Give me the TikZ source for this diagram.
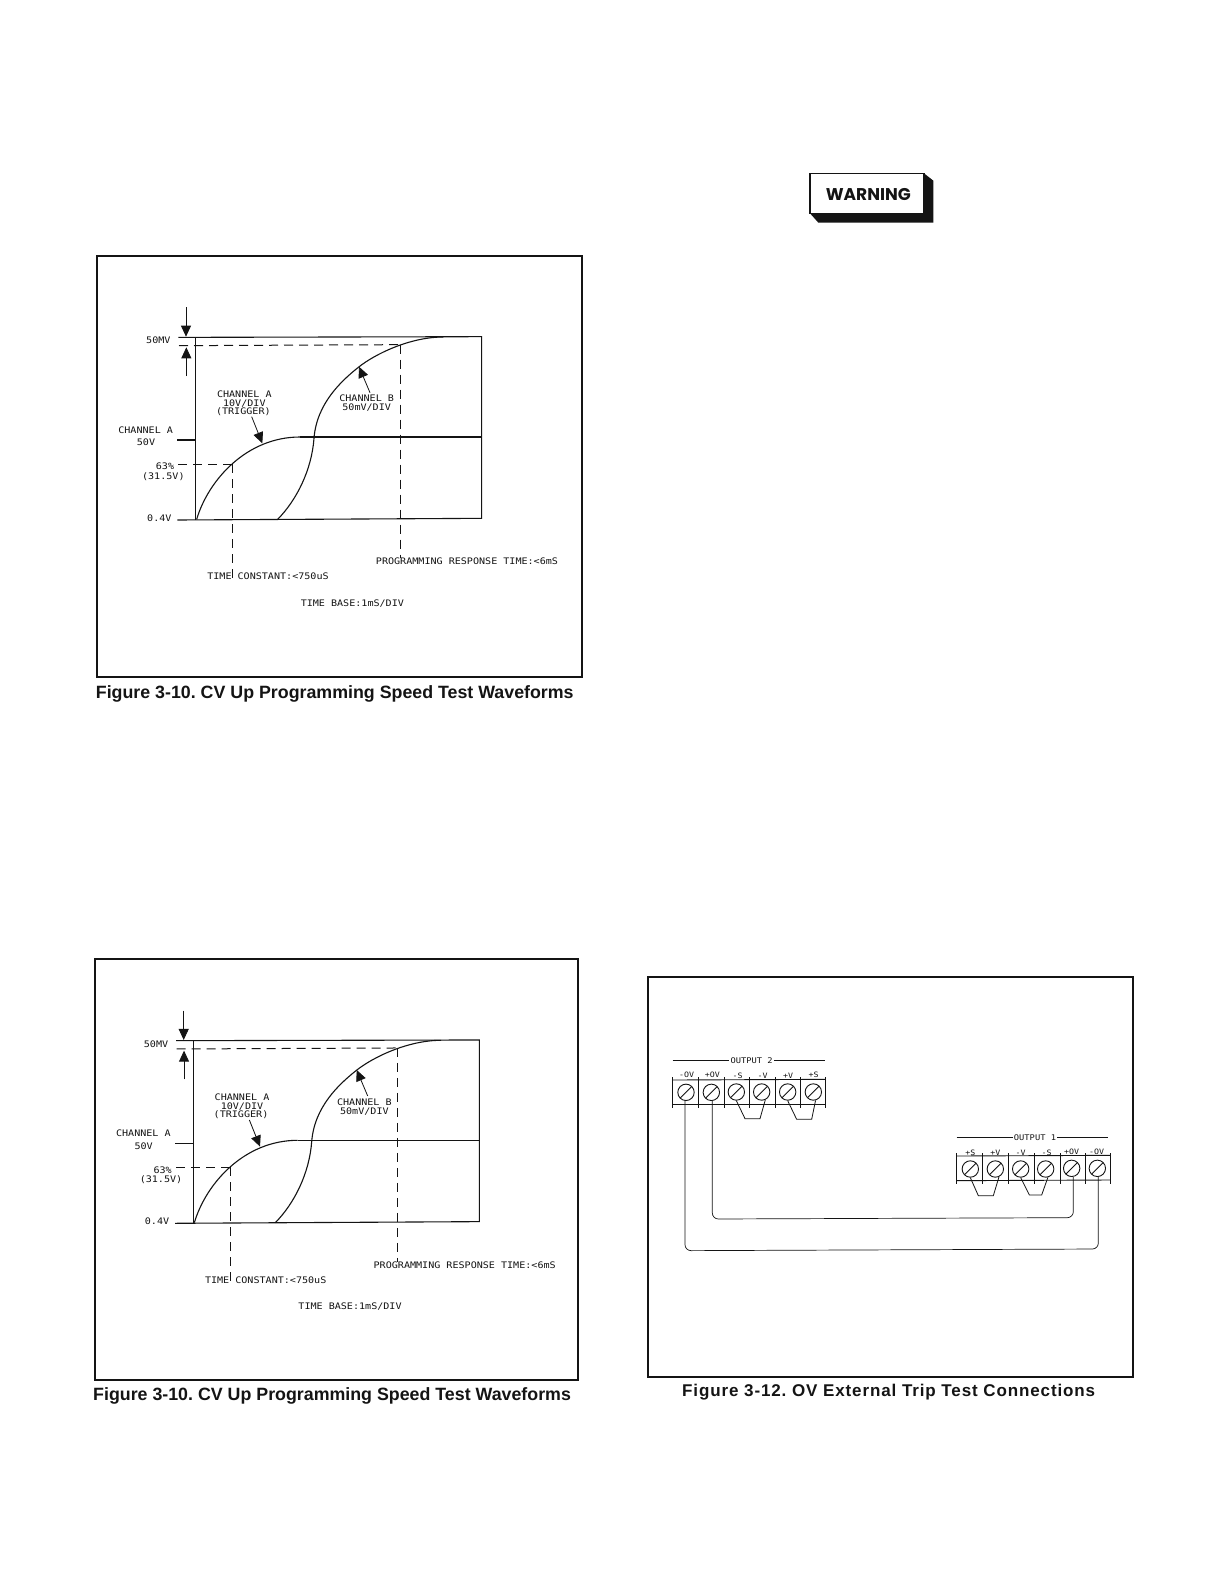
\documentclass[tikz,border=0pt]{standalone}
\usepackage{fontspec}
\usetikzlibrary{arrows.meta}
\setmainfont{Liberation Sans}
\newfontfamily\plotfont[FakeStretch=1.12]{DejaVu Sans Mono}
\newfontfamily\widecap[LetterSpace=5.2]{Liberation Sans}
\newfontfamily\warnfont{Poppins}
\definecolor{ink}{gray}{0.08}
\frenchspacing
\tikzset{
  boxframe/.style={draw=ink,line width=1.7pt},
  plotline/.style={draw=ink,line width=1.1pt},
  dashline/.style={draw=ink,line width=1pt,dash pattern=on 9pt off 6pt},
  ptr/.style={draw=ink,line width=.8pt,-{Triangle[length=11pt,width=10pt]}},
  lab/.style={inner sep=0pt,text=ink,font=\plotfont\fontsize{9}{11}\selectfont},
  termlab/.style={inner sep=0pt,text=ink,font=\plotfont\fontsize{7.4}{9}\selectfont},
  outlab/.style={inner sep=0pt,text=ink,font=\plotfont\fontsize{7.8}{10}\selectfont},
  captext/.style={inner sep=0pt,anchor=base west,text=ink,font=\bfseries\fontsize{17.8}{20}\selectfont},
  screw/.style={circle,draw=ink,line width=.9pt,minimum size=16.4pt,inner sep=0pt,
    path picture={\draw[ink,line width=.9pt] (path picture bounding box.south west) -- (path picture bounding box.north east);}},
  wireline/.style={draw=ink,line width=.7pt,rounded corners=6pt},
  jumper/.style={draw=ink,line width=.8pt},
  barline/.style={draw=ink,line width=.9pt}
}
\newcommand{\wavefig}[3]{%
\begin{scope}[shift={(#1pt,#2pt)},x=.33333pt,y=-.33333pt,name prefix=#3-]
  \coordinate (tl) at (287,142); \coordinate (tr) at (1145,140);
  \coordinate (br) at (1145,685); \coordinate (bl) at (287,690);
  \coordinate (tt) at (235,142); \coordinate (bt) at (232,690);
  \coordinate (mt) at (232,450); \coordinate (ma) at (287,450);
  \coordinate (ms) at (600,441); \coordinate (me) at (1145,441);
  \coordinate (da) at (237,167); \coordinate (db) at (900,164);
  \coordinate (dc) at (235,522); \coordinate (dd) at (398,522);
  \coordinate (de) at (398,868); \coordinate (df) at (900,815);
  \draw[plotline] (tt) -- (tl) -- (tr) -- (br) -- (bt);
  \draw[plotline] (tl) -- (bl);
  \draw[plotline] (mt) -- (ma);
  \draw[plotline] (ms) -- (me);
  \draw[plotline] (290,688) .. controls (325,570) and (440,441) .. (ms);
  \draw[plotline] (533,688) .. controls (590,630) and (635,540) .. (642,445)
    .. controls (650,340) and (725,272) .. (775,232)
    .. controls (825,192) and (930,141) .. (1030,141);
  \draw[dashline] (da) -- (db);
  \draw[dashline] (db) -- (df);
  \draw[dashline] (dc) -- (dd);
  \draw[dashline] (dd) -- (de);
  \coordinate (p1a) at (258,52); \coordinate (p1b) at (258,140);
  \coordinate (p2a) at (259,258); \coordinate (p2b) at (259,172);
  \coordinate (p3a) at (455,380); \coordinate (p3b) at (487,460);
  \coordinate (p4a) at (810,308); \coordinate (p4b) at (777,230);
  \draw[ptr] (p1a) -- (p1b);
  \draw[ptr] (p2a) -- (p2b);
  \draw[ptr] (p3a) -- (p3b);
  \draw[ptr] (p4a) -- (p4b);
  \node[lab] (l50mv) at (175,152) {50MV};
  \node[lab] (lcha) at (137,420) {CHANNEL A};
  \node[lab] (l50v) at (138,458) {50V};
  \node[lab] (l63) at (195,530) {63\%};
  \node[lab] (l315) at (190,560) {(31.5V)};
  \node[lab] (l04) at (178,685) {0.4V};
  \node[lab] (ca1) at (433,313) {CHANNEL A};
  \node[lab] (ca2) at (433,340) {10V/DIV};
  \node[lab] (ca3) at (430,364) {(TRIGGER)};
  \node[lab] (cb1) at (800,326) {CHANNEL B};
  \node[lab] (cb2) at (800,354) {50mV/DIV};
  \node[lab,fill=white] (prt) at (1101,815) {PROGRAMMING RESPONSE TIME:<6mS};
  \node[lab] (tcn) at (504,860) {TIME CONSTANT:<750uS};
  \node[lab] (tbs) at (757,940) {TIME BASE:1mS/DIV};
\end{scope}}
\begin{document}
\begin{tikzpicture}[x=1pt,y=-1pt]
\useasboundingbox (0,0) rectangle (1224,1584);
\fill[white] (0,0) rectangle (1224,1584);
% warning sign
\begin{scope}[shift={(790pt,-160pt)},x=.33333pt,y=-.33333pt]
  \fill[ink] (402,40) -- (430,62) -- (430,188) -- (85,188) -- (60,160) -- cycle;
  \draw[ink,line width=1.3pt,fill=white] (60,40) rectangle (402,160);
  \node[inner sep=0pt,text=ink,font=\warnfont\bfseries\fontsize{17}{20}\selectfont] (warn) at (235,103) {WARNING};
\end{scope}
% frames
\draw[boxframe] (97,256) rectangle (581.7,677);
\draw[boxframe] (95,959.3) rectangle (578.3,1380);
\draw[boxframe] (647.7,976.7) rectangle (1132.7,1377.3);
% waveforms
\wavefig{100}{-290}{wa}
\wavefig{97.7}{-993.3}{wb}
% captions
\node[captext] (capa) at (95.7,698) {Figure 3-10. CV Up Programming Speed Test Waveforms};
\node[captext] (capb) at (93,1400.7) {Figure 3-10. CV Up Programming Speed Test Waveforms};
\node[captext,font=\widecap\bfseries\fontsize{17}{20}\selectfont] (capc) at (682,1396.7) {Figure 3-12. OV External Trip Test Connections};
% terminal diagram
\begin{scope}[shift={(650pt,-1040pt)},x=.33333pt,y=-.33333pt]
  % output 2
  \node[outlab,fill=white,inner xsep=1pt] (out2) at (305,62) {OUTPUT 2};
  \coordinate (o2l) at (68,62); \coordinate (o2r) at (524,62);
  \draw[barline] (o2l) -- (out2); \draw[barline] (out2) -- (o2r);
  \draw[barline] (68,120) -- (526,118);
  \draw[barline] (68,192) -- (526,192);
  \foreach \x in {68,146,223,298,375,451,526} \draw[draw=ink,line width=.6pt] (\x,112) -- (\x,205);
  \node[screw] (a1) at (108,157) {};
  \node[screw] (a2) at (184,157) {};
  \node[screw] (a3) at (259,156) {};
  \node[screw] (a4) at (335,156) {};
  \node[screw] (a5) at (413,156) {};
  \node[screw] (a6) at (490,156) {};
  \node[termlab] (ta1) at (110,105) {-OV};
  \node[termlab] (ta2) at (187,105) {+OV};
  \node[termlab] (ta3) at (263,107) {-S};
  \node[termlab] (ta4) at (338,107) {-V};
  \node[termlab] (ta5) at (414,107) {+V};
  \node[termlab] (ta6) at (491,105) {+S};
  \coordinate (j1a) at (285,236); \coordinate (j1b) at (330,236);
  \coordinate (j2a) at (440,238); \coordinate (j2b) at (485,238);
  \draw[jumper] (a3.south) -- (j1a) -- (j1b) -- (a4.-65);
  \draw[jumper] (a5.south) -- (j2a) -- (j2b) -- (a6.-75);
  % output 1
  \node[outlab,fill=white,inner xsep=1pt] (out1) at (1155,292) {OUTPUT 1};
  \coordinate (o1l) at (920,292); \coordinate (o1r) at (1375,292);
  \draw[barline] (o1l) -- (out1); \draw[barline] (out1) -- (o1r);
  \draw[barline] (920,348) -- (1380,346);
  \draw[barline] (920,422) -- (1380,420);
  \foreach \x in {920,998,1076,1152,1230,1305,1380} \draw[draw=ink,line width=.6pt] (\x,340) -- (\x,432);
  \node[screw] (b1) at (961,387) {};
  \node[screw] (b2) at (1036,387) {};
  \node[screw] (b3) at (1112,387) {};
  \node[screw] (b4) at (1187,387) {};
  \node[screw] (b5) at (1265,385) {};
  \node[screw] (b6) at (1342,385) {};
  \node[termlab] (tb1) at (961,338) {+S};
  \node[termlab] (tb2) at (1036,338) {+V};
  \node[termlab] (tb3) at (1112,338) {-V};
  \node[termlab] (tb4) at (1190,338) {-S};
  \node[termlab] (tb5) at (1265,336) {+OV};
  \node[termlab] (tb6) at (1340,336) {-OV};
  \coordinate (j3a) at (985,467); \coordinate (j3b) at (1030,467);
  \coordinate (j4a) at (1138,465); \coordinate (j4b) at (1175,465);
  \draw[jumper] (b1.south) -- (j3a) -- (j3b) -- (b2.-65);
  \draw[jumper] (b3.south) -- (j4a) -- (j4b) -- (b4.-75);
  % wires
  \coordinate (w1a) at (187,537); \coordinate (w1b) at (1270,533);
  \coordinate (w2a) at (105,632); \coordinate (w2b) at (1345,627);
  \draw[wireline] (a2.south -| w1a) -- (w1a) -- (w1b) -- (b5.south -| w1b);
  \draw[wireline] (a1.south -| w2a) -- (w2a) -- (w2b) -- (b6.south -| w2b);
\end{scope}
\end{tikzpicture}
\end{document}
